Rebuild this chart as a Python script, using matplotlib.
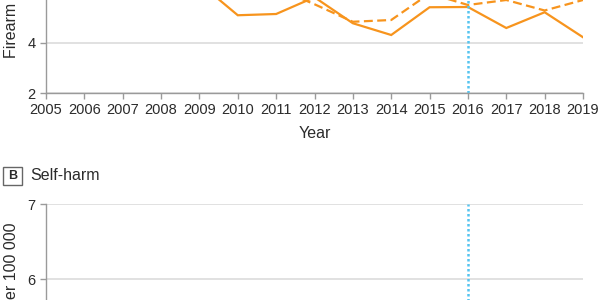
import matplotlib
matplotlib.use('Agg')
import matplotlib.pyplot as plt
from matplotlib.patches import FancyBboxPatch

plt.rcParams['font.family'] = ['Liberation Sans Narrow', 'Liberation Sans', 'DejaVu Sans']

years = list(range(2005, 2020))
# panel A, firearm assault (rates per 100 000); early years are above the visible crop
assault_solid = [6.7, 6.9, 7.1, 6.8, 6.39, 5.11, 5.16, 5.83, 4.79, 4.32, 5.43, 5.44, 4.60, 5.23, 4.23]
assault_dashed = [6.9, 7.0, 6.8, 6.6, 6.5, 6.35, 6.2, 5.55, 4.85, 4.92, 5.98, 5.52, 5.72, 5.30, 5.72]
policy_year = 2016

orange = '#F7941D'
blue = '#55C4F0'
grid_c = '#DCDCDC'
spine_c = '#9A9A9A'
text_c = '#2B2B2B'

fig = plt.figure(figsize=(6, 3), dpi=100)

def px(x0, y0, x1, y1):
    # pixel box -> figure fraction rect
    return [x0 / 600, 1 - y1 / 300, (x1 - x0) / 600, (y1 - y0) / 300]

def style(ax):
    for s in ['top', 'right']:
        ax.spines[s].set_visible(False)
    for s in ['left', 'bottom']:
        ax.spines[s].set_color(spine_c)
        ax.spines[s].set_linewidth(1)
    ax.tick_params(colors=spine_c, labelcolor=text_c, labelsize=10.5, length=4, width=1)
    ax.set_xlim(2005, 2019)
    ax.set_xticks(years)
    ax.grid(axis='y', color=grid_c, lw=1.2)
    ax.set_axisbelow(True)

# panel A (only lower part visible)
ax1 = fig.add_axes(px(46, -57, 583, 93))
style(ax1)
ax1.set_ylim(2, 8)
ax1.set_yticks([2, 4])
ax1.axhline(6, color=grid_c, lw=1.2, zorder=0)
ax1.plot(years, assault_solid, color=orange, lw=1.6, solid_joinstyle='miter')
ax1.plot(years, assault_dashed, color=orange, lw=1.6, ls=(0, (4, 2)))
ax1.axvline(policy_year, color=blue, lw=1.8, ls=(0, (1, 1)))
ax1.set_xlabel('Year', fontsize=11.5, color=text_c, labelpad=6)
fig.text(12 / 600, 1 - 58 / 300, 'Firearm assault rate per 100 000', rotation=90,
         ha='center', va='bottom', fontsize=11.5, color=text_c)

# panel B (only upper part visible)
ax2 = fig.add_axes(px(46, 204.3, 583, 429.3))
style(ax2)
ax2.set_ylim(4, 7)
ax2.set_yticks([6, 7])
ax2.tick_params(axis='x', labelbottom=False)
ax2.axvline(policy_year, color=blue, lw=1.8, ls=(0, (1, 1)))
fig.text(12 / 600, 1 - 223 / 300, 'Self-harm rate per 100 000', rotation=90,
         ha='center', va='top', fontsize=11.5, color=text_c)

# panel tag
box = FancyBboxPatch((3 / 600, 1 - 185 / 300), 18.5 / 600, 18.5 / 300,
                     boxstyle='square,pad=0', transform=fig.transFigure,
                     fc='white', ec='#666666', lw=1)
fig.add_artist(box)
fig.text(12.2 / 600, 1 - 176 / 300, 'B', ha='center', va='center',
         fontsize=9, fontweight='bold', color=text_c)
fig.text(30 / 600, 1 - 176 / 300, 'Self-harm', ha='left', va='center',
         fontsize=11.5, color=text_c)

fig.savefig('out.png', dpi=100)
